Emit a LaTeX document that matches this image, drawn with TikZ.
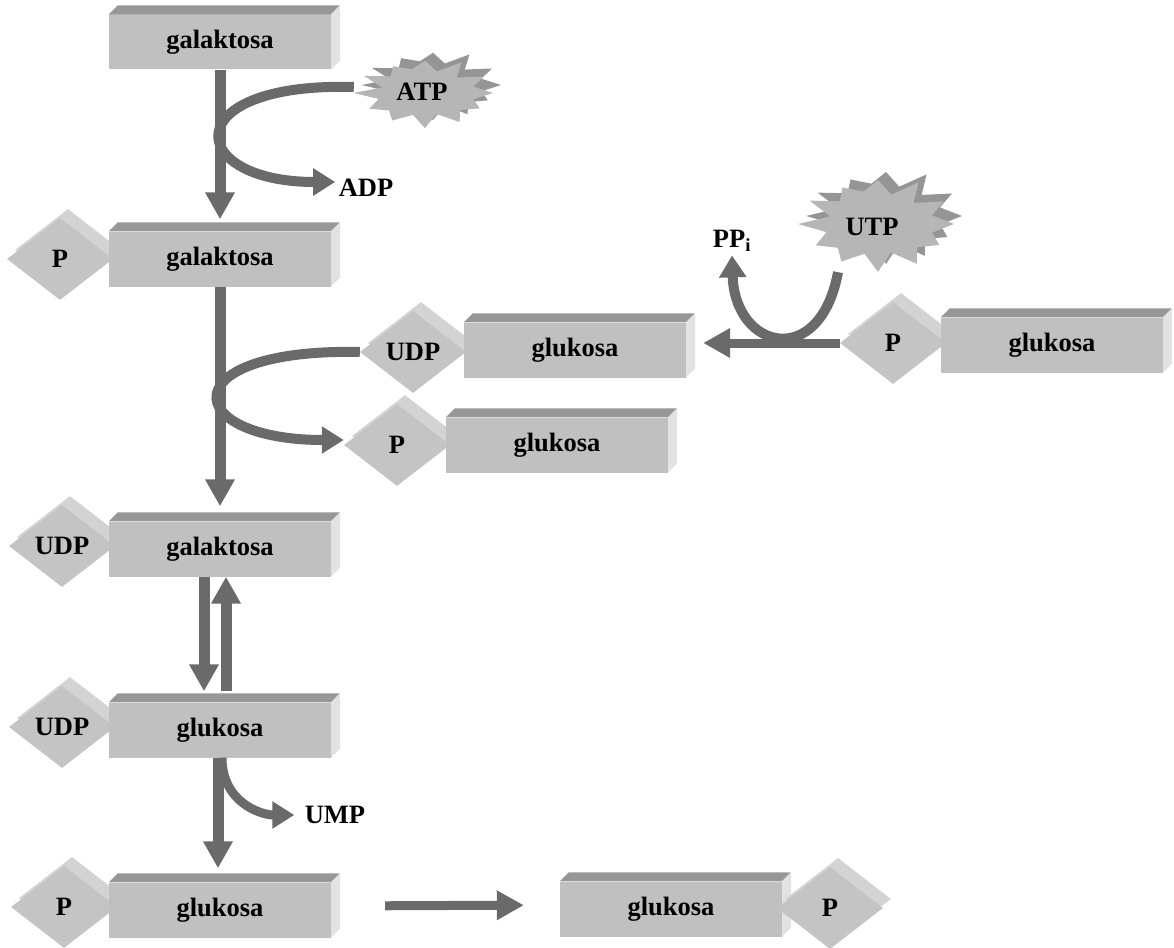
\documentclass[tikz,border=0pt]{standalone}
\usepackage{fontspec}
\setmainfont{Liberation Serif}
\usetikzlibrary{shapes.geometric, arrows.meta, positioning, shadows}
\definecolor{boxfront}{HTML}{C0C0C0}
\definecolor{boxtop}{HTML}{979797}
\definecolor{boxside}{HTML}{E2E2E2}
\definecolor{tagfront}{HTML}{C4C4C4}
\definecolor{tagback}{HTML}{D3D3D3}
\definecolor{flowgray}{HTML}{6A6A6A}
\definecolor{burstfront}{HTML}{B6B6B6}
\definecolor{burstback}{HTML}{959595}
\tikzstyle{block} = [rectangle, fill=boxfront, minimum width=222pt, minimum height=55pt, inner sep=0pt]
\tikzstyle{tag} = [diamond, fill=tagfront, minimum width=106pt, minimum height=82pt, inner sep=0pt, general shadow={shadow xshift=8pt, shadow yshift=9pt, fill=tagback}]
\tikzstyle{flow} = [draw=flowgray, line width=11pt, -{Triangle[length=27pt,width=28pt]}]
\tikzstyle{twist} = [draw=flowgray, line width=10pt, -{Triangle[length=22pt,width=26pt]}]
\tikzstyle{burst} = [minimum width=136pt, minimum height=66pt, inner sep=0pt]
% star shaped blob: cx, cy, rx, ry
\newcommand{\starblob}[4]{%
  \foreach \dx/\dy/\col in {8/-8/burstback, 0/0/burstfront}{
    \fill[\col] ({#1+\dx+#3},{#2+\dy}) \foreach \k in {1,...,23}{
      -- ({#1+\dx+(1-0.3*mod(\k,2))*(1+0.07*sin(131*\k))*#3*cos(15*\k)},
          {#2+\dy+(1-0.3*mod(\k,2))*(1+0.07*sin(131*\k))*#4*sin(15*\k)}) } -- cycle;
  }}

\begin{document}
\begin{tikzpicture}[x=1pt, y=-1pt, font=\bfseries\fontsize{26.5pt}{30pt}\selectfont]
  \useasboundingbox (0,0) rectangle (1174,947);
  % tags behind the boxes
  \node [tag] (tp2)   at (60,259)  {P};
  \node [tag] (tudpm) at (413,352) {UDP};
  \node [tag] (tpm)   at (397,445) {P};
  \node [tag] (tpr)   at (893,343) {P};
  \node [tag] (tudp3) at (62,546)  {UDP};
  \node [tag] (tudp4) at (62,727)  {UDP};
  \node [tag] (tp5)   at (64,907)  {P};
  % boxes
  \node [block]                                 (gal1)   at (220,42)  {galaktosa};
  \node [block, below of=gal1, node distance=217pt] (gal2) {galaktosa};
  \node [block, below of=gal2, node distance=290pt] (gal3) {galaktosa};
  \node [block, below of=gal3, node distance=181pt] (glu4) {glukosa};
  \node [block, below of=glu4, node distance=180pt] (glu5) {glukosa};
  \node [block] (udpglu) at (575,350)  {glukosa};
  \node [block] (pglu)   at (557,445)  {glukosa};
  \node [block] (pglur)  at (1052,345) {glukosa};
  \node [block] (glu6)   at (671,909)  {glukosa};
  \foreach \b in {gal1,gal2,gal3,glu4,glu5,udpglu,pglu,pglur,glu6}{
    \fill[boxtop] (\b.north west) -- ++(9,-9) -- ++(222,0) -- ++(-9,9) -- cycle;
    \fill[boxside] (\b.north east) -- ++(9,-9) -- ++(0,55) -- ++(-9,9) -- cycle;
  }
  \node [tag] (tp6) at (830,908) {P};
  % ATP and UTP
  \starblob{425}{93}{68}{33}
  \starblob{878}{224}{76}{45}
  \node [burst] (atp) at (422,92) {ATP};
  \node [burst, minimum width=150pt, minimum height=90pt] (utp) at (872,227) {UTP};
  \node (adp) at (366,188) {ADP};
  \node (ump) at (335,815) {UMP};
  \node (ppi) at (732,241) {PP\textsubscript{i}};
  % arrows
  \path [flow, shorten >=12pt] (gal1.south) -- (gal2.north);
  \path [flow, shorten >=15pt] (gal2.south) -- (gal3.north);
  \path [flow, shorten >=11pt] ([xshift=-16pt]gal3.south) -- ([xshift=-16pt]glu4.north);
  \path [flow, shorten <=11pt] ([xshift=6pt]glu4.north) -- ([xshift=6pt]gal3.south);
  \path [flow, shorten >=14pt] ([xshift=-2pt]glu4.south) -- ([xshift=-2pt]glu5.north);
  \path [flow, line width=9pt, shorten >=17pt] (tpr.west) -- (tpr.west -| udpglu.east);
  \path [flow, line width=9pt, shorten <=54pt, shorten >=36pt] ([yshift=4pt]glu5.east) -- ([yshift=4pt]glu6.west);
  \path [twist] ([yshift=5pt]atp.west) .. controls (175,82) and (185,182) .. ([yshift=6pt]adp.west);
  \path [twist] (tudpm.west) .. controls (170,348) and (180,440) .. ([yshift=5pt]tpm.west);
  \path [twist] ([xshift=-34pt]utp.south) .. controls (820,370) and (735,350) .. (ppi.south);
  \path [twist, line width=9pt, shorten >=7pt] ([xshift=2pt]glu4.south) .. controls +(0,45) and +(-40,0) .. (ump.west);
\end{tikzpicture}
\end{document}
